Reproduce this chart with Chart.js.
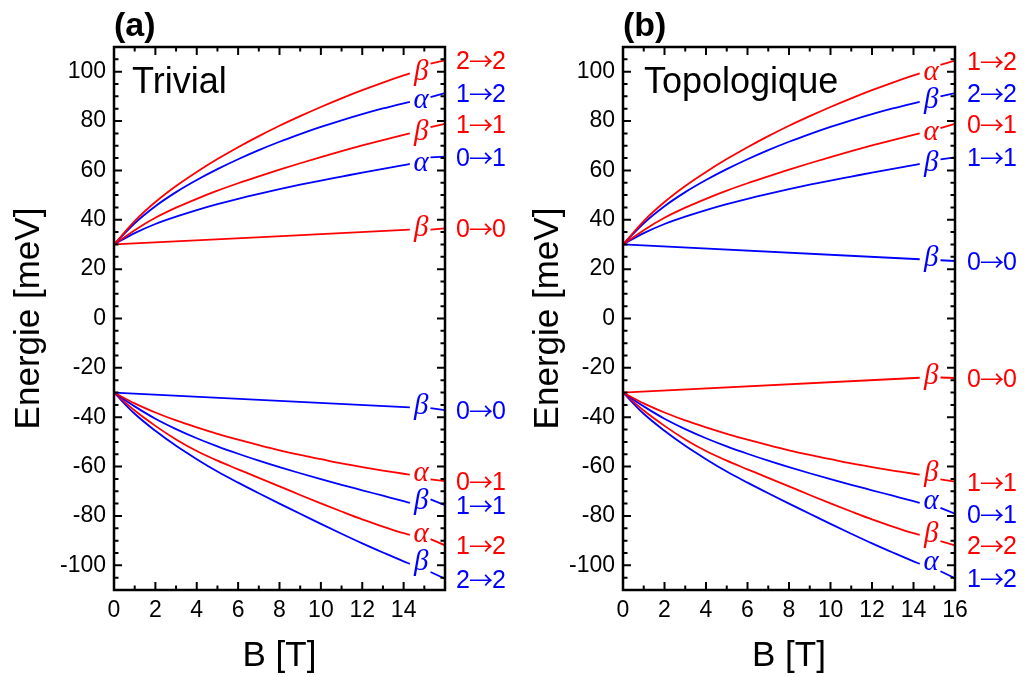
<!DOCTYPE html>
<html>
<head>
<meta charset="utf-8">
<script src="https://cdn.jsdelivr.net/npm/chart.js@4.4.1/dist/chart.umd.min.js"></script>
<style>
  body { margin: 0; background: #fff; }
  #wrap { position: relative; width: 1025px; height: 677px; }
  canvas { position: absolute; top: 0; }
</style>
</head>
<body>
<div id="wrap">
  <canvas id="panelA" width="512" height="677" style="left:0"></canvas>
  <canvas id="panelB" width="513" height="677" style="left:512px"></canvas>
</div>
<script>
// champ magnetique B [T]
const bField = [0, 1, 2, 3, 4, 5, 6, 7, 8, 9, 10, 11, 12, 13, 14, 14.3];
const bFlat = [0, 14.3];

// branches superieures / inferieures (meV)
const upper1 = [30, 39.5, 47.2, 53.7, 59.4, 64.6, 69.4, 73.9, 78.1, 82.0, 85.7, 89.2, 92.5, 95.6, 98.5, 99.3];
const upper2 = [30, 38.6, 45.5, 51.2, 56.1, 60.5, 64.5, 68.2, 71.6, 74.7, 77.6, 80.3, 82.8, 85.1, 87.2, 87.8];
const upper3 = [30, 35.8, 40.8, 44.9, 48.5, 51.8, 54.8, 57.6, 60.3, 62.9, 65.4, 67.8, 70.1, 72.3, 74.4, 75.0];
const upper4 = [30, 34.6, 38.3, 41.3, 43.9, 46.3, 48.5, 50.5, 52.4, 54.2, 55.9, 57.5, 59.1, 60.6, 62.1, 62.6];
const lower1 = [-30, -34.4, -38.1, -41.3, -44.1, -46.7, -49.1, -51.3, -53.4, -55.3, -57.0, -58.7, -60.2, -61.6, -62.9, -63.3];
const lower2 = [-30, -35.6, -40.6, -44.8, -48.5, -51.8, -54.8, -57.6, -60.2, -62.7, -65.1, -67.4, -69.6, -71.8, -74.0, -74.7];
const lower3 = [-30, -37.3, -43.5, -49.0, -53.7, -57.6, -61.1, -64.6, -68.0, -71.5, -74.9, -78.2, -81.4, -84.3, -87.0, -87.7];
const lower4 = [-30, -38.6, -45.5, -51.6, -57.0, -62.0, -66.5, -70.8, -75.0, -79.1, -83.2, -87.2, -91.1, -94.8, -98.4, -99.4];

// niveaux 0->0 (droites)
const flatUpA = [30, 36];
const flatDownA = [-30, -36];
const flatUpB = [30, 24];
const flatDownB = [-30, -24];

// ticks
const xTicks = [0, 2, 4, 6, 8, 10, 12, 14, 16];
const yTicks = [-100, -80, -60, -40, -20, 0, 20, 40, 60, 80, 100];

// etiquettes (ordre : sup1..sup4, 0->0 haut, 0->0 bas, inf1..inf4)
const transA = ['2→2', '1→2', '1→1', '0→1', '0→0', '0→0', '0→1', '1→1', '1→2', '2→2'];
const greekA = ['β', 'α', 'β', 'α', 'β', 'β', 'α', 'β', 'α', 'β'];
const connFromA = [103.3, 89.7, 77.5, 65.3, 36.0, -36.3, -65.2, -73.3, -89.4, -102.7];
const connToA = [104.6, 91.3, 78.9, 65.6, 36.5, -37.1, -65.9, -75.6, -91.9, -105.4];

const transB = ['1→2', '2→2', '0→1', '1→1', '0→0', '0→0', '1→1', '0→1', '2→2', '1→2'];
const greekB = ['α', 'β', 'α', 'β', 'β', 'β', 'β', 'α', 'β', 'α'];
const connFromB = [102.8, 90.0, 77.1, 64.5, 23.6, -23.9, -65.2, -76.7, -90.2, -102.4];
const connToB = [104.5, 91.3, 78.9, 65.3, 23.3, -24.1, -66.1, -79.1, -91.9, -105.2];

const RED = '#ff0000';
const BLUE = '#0000ff';
const SANS = '"Liberation Sans", Arial, sans-serif';
Chart.defaults.font.family = SANS;
Chart.defaults.color = '#000';

// "2→2" : chiffres en sans, fleche longue et fine
function drawTrans(ctx, txt, x, y) {
    const base = y + 9;
    ctx.textAlign = 'left';
    ctx.textBaseline = 'alphabetic';
    ctx.font = '25px ' + SANS;
    ctx.fillText(txt[0], x, base);
    x += ctx.measureText(txt[0]).width;
    ctx.font = '24px "Noto Sans CJK JP", "DejaVu Sans", sans-serif';
    ctx.fillText(txt[1], x - 1, base + 1);
    x += ctx.measureText(txt[1]).width - 2;
    ctx.font = '25px ' + SANS;
    ctx.fillText(txt[2], x, base);
}

// cadre, ticks internes, lettres grecques, etiquettes a droite
const annotPlugin = {
    id: 'annot',
    afterDraw(chart, args, o) {
        const ctx = chart.ctx;
        const a = chart.chartArea;
        const sx = chart.scales.x, sy = chart.scales.y;
        ctx.save();
        ctx.strokeStyle = '#000';
        ctx.lineWidth = 2;
        ctx.beginPath();
        // ticks x (haut et bas)
        for (let v = 0; v <= 16; v++) {
            const px = sx.getPixelForValue(v);
            const len = v % 2 === 0 ? 8 : 4.5;
            ctx.moveTo(px, a.bottom); ctx.lineTo(px, a.bottom - len);
            ctx.moveTo(px, a.top); ctx.lineTo(px, a.top + len);
        }
        // ticks y (gauche et droite)
        for (let v = -110; v <= 110; v += 5) {
            const py = sy.getPixelForValue(v);
            const len = v % 20 === 0 ? 8 : 4.5;
            ctx.moveTo(a.left, py); ctx.lineTo(a.left + len, py);
            ctx.moveTo(a.right, py); ctx.lineTo(a.right - len, py);
        }
        ctx.stroke();
        ctx.lineWidth = 2.5;
        ctx.strokeRect(a.left, a.top, a.right - a.left, a.bottom - a.top);

        // lettres grecques + transitions
        o.ends.forEach((yEnd, i) => {
            ctx.fillStyle = o.colors[i];
            ctx.font = 'italic 29px "Liberation Serif", serif';
            ctx.textAlign = 'center';
            ctx.textBaseline = 'middle';
            ctx.fillText(o.greek[i], sx.getPixelForValue(14.85), sy.getPixelForValue(yEnd) - 1);
            drawTrans(ctx, o.trans[i], a.right + o.labelGap, sy.getPixelForValue(o.connTo[i]));
        });

        // (a) / (b), Trivial / Topologique
        ctx.fillStyle = '#000';
        ctx.textAlign = 'left';
        ctx.textBaseline = 'alphabetic';
        ctx.font = 'bold 34px ' + SANS;
        ctx.fillText(o.tag, a.left, 36);
        ctx.font = '36px ' + SANS;
        ctx.fillText(o.name, a.left + o.nameGap, 93);
        ctx.restore();
    }
};

function makePanel(id, p) {
    const curves = [
        [bField, upper1], [bField, upper2], [bField, upper3], [bField, upper4],
        [bFlat, p.flatUp], [bFlat, p.flatDown],
        [bField, lower1], [bField, lower2], [bField, lower3], [bField, lower4]
    ];
    const datasets = [];
    curves.forEach((c, i) => {
        datasets.push({
            data: c[0].map((b, k) => ({x: b, y: c[1][k]})),
            borderColor: p.colors[i],
            borderWidth: 1.8,
            pointRadius: 0,
            fill: false,
            cubicInterpolationMode: 'monotone'
        });
        // petit trait vers l'etiquette
        datasets.push({
            data: [{x: 15.3, y: p.connFrom[i]}, {x: 16, y: p.connTo[i]}],
            borderColor: p.colors[i],
            borderWidth: 1.8,
            pointRadius: 0,
            fill: false
        });
    });

    return new Chart(document.getElementById(id), {
        type: 'line',
        data: {datasets: datasets},
        options: {
            responsive: false,
            animation: false,
            devicePixelRatio: 1,
            layout: {padding: {left: 0, right: p.rightPad, top: 47, bottom: 0}},
            plugins: {
                legend: {display: false},
                tooltip: {enabled: false},
                annot: {
                    ends: curves.map(c => c[1][c[1].length - 1]),
                    colors: p.colors, greek: p.greek, trans: p.trans, connTo: p.connTo,
                    labelGap: p.labelGap, tag: p.tag, name: p.name, nameGap: p.nameGap
                }
            },
            scales: {
                x: {
                    type: 'linear', min: 0, max: 16,
                    afterBuildTicks: s => { s.ticks = xTicks.map(v => ({value: v})); },
                    afterFit: s => { s.height = 87; },
                    grid: {display: false, drawTicks: false},
                    border: {display: false},
                    ticks: {
                        font: {size: 23}, color: '#000', padding: 7, maxRotation: 0,
                        callback: v => (p.hide16 && v === 16) ? '' : v
                    },
                    title: {display: true, text: 'B [T]', font: {size: 35}, color: '#000', padding: {top: 9, bottom: 0}}
                },
                y: {
                    type: 'linear', min: -110, max: 110,
                    afterBuildTicks: s => { s.ticks = yTicks.map(v => ({value: v})); },
                    afterFit: s => { s.width = p.yWidth; },
                    grid: {display: false, drawTicks: false},
                    border: {display: false},
                    ticks: {font: {size: 23}, color: '#000', padding: 8},
                    title: {display: true, text: 'Energie [meV]', font: {size: 35}, color: '#000', padding: {top: p.yTitlePad, bottom: 0}}
                }
            }
        },
        plugins: [annotPlugin]
    });
}

makePanel('panelA', {
    flatUp: flatUpA, flatDown: flatDownA,
    colors: [RED, BLUE, RED, BLUE, RED, BLUE, RED, BLUE, RED, BLUE],
    greek: greekA, trans: transA, connFrom: connFromA, connTo: connToA,
    yWidth: 114, rightPad: 67, labelGap: 11, yTitlePad: 8,
    tag: '(a)', name: 'Trivial', nameGap: 18, hide16: true
});

makePanel('panelB', {
    flatUp: flatUpB, flatDown: flatDownB,
    colors: [RED, BLUE, RED, BLUE, BLUE, RED, RED, BLUE, RED, BLUE],
    greek: greekB, trans: transB, connFrom: connFromB, connTo: connToB,
    yWidth: 111, rightPad: 70, labelGap: 12, yTitlePad: 15,
    tag: '(b)', name: 'Topologique', nameGap: 21, hide16: false
});
</script>
</body>
</html>
